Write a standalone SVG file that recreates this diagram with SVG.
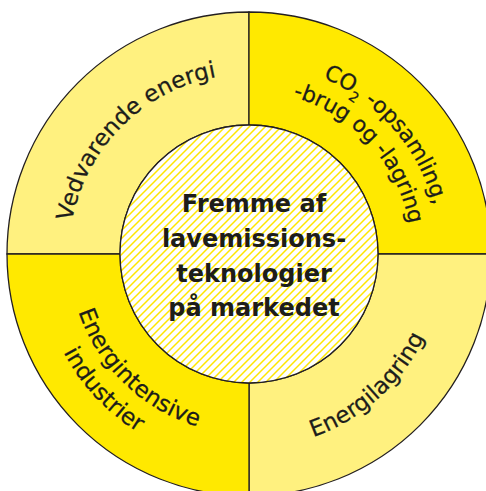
<svg xmlns="http://www.w3.org/2000/svg" width="486" height="491" viewBox="0 0 486 491">
<style>
.seg{stroke:#231f20;stroke-width:1.3}
.pale{fill:#FFF17F}
.bright{fill:#FFE900}
.lbl{font-family:"DejaVu Sans","Open Sans",sans-serif;font-size:23px;fill:#1d1d1b;stroke:#1d1d1b;stroke-width:0.25}
.sm{font-size:22px;letter-spacing:-0.2px}
.ctr{font-family:"DejaVu Sans","Open Sans",sans-serif;font-size:24px;font-weight:bold;fill:#1d1d1b;text-anchor:middle}
</style>
<defs>
<pattern id="hatch" patternUnits="userSpaceOnUse" width="8" height="8">
<rect width="8" height="8" fill="#ffffff"/>
<path d="M-2,2 L2,-2 M0,8 L8,0 M6,10 L10,6" stroke="#FFE600" stroke-width="1.5"/>
</pattern>
<path id="pVed" d="M121.72,381.28 A180,180 0 0 1 376.28,126.72"/>
<path id="pCO1" d="M123.69,109.85 A191,191 0 0 1 374.31,398.15"/>
<path id="pCO2" d="M138.88,133.82 A163,163 0 0 1 359.12,374.18"/>
<path id="pLag" d="M104.09,384.48 A195,195 0 0 0 393.91,123.52"/>
<path id="pInt1" d="M118.81,128.26 A181,181 0 0 0 379.19,379.74"/>
<path id="pInt2" d="M105.78,100.41 A210,210 0 0 0 392.22,407.59"/>
</defs>
<g id="node-vedvarende">
<path class="seg pale" d="M7,254 A242,242 0 0 1 249,12 L249,125 A129,129 0 0 0 120,254 Z"/>
<text class="lbl"><textPath href="#pVed" startOffset="50%" text-anchor="middle">Vedvarende energi</textPath></text>
</g>
<g id="node-co2">
<path class="seg bright" d="M249,12 A242,242 0 0 1 491,254 L378,254 A129,129 0 0 0 249,125 Z"/>
<text class="lbl sm"><textPath href="#pCO1" startOffset="50%" text-anchor="middle">CO<tspan font-size="14" dy="7">2</tspan><tspan dy="-7"> -opsamling,</tspan></textPath></text>
<text class="lbl sm"><textPath href="#pCO2" startOffset="50%" text-anchor="middle">-brug og -lagring</textPath></text>
</g>
<g id="node-energilagring">
<path class="seg pale" d="M491,254 A242,242 0 0 1 249,496 L249,383 A129,129 0 0 0 378,254 Z"/>
<text class="lbl"><textPath href="#pLag" startOffset="50%" text-anchor="middle">Energilagring</textPath></text>
</g>
<g id="node-energiintensive">
<path class="seg bright" d="M249,496 A242,242 0 0 1 7,254 L120,254 A129,129 0 0 0 249,383 Z"/>
<text class="lbl"><textPath href="#pInt1" startOffset="50%" text-anchor="middle">Energintensive</textPath></text>
<text class="lbl"><textPath href="#pInt2" startOffset="50%" text-anchor="middle">industrier</textPath></text>
</g>
<g id="node-center">
<circle class="seg" cx="249" cy="254" r="129" fill="url(#hatch)"/>
<text class="ctr" x="254" y="212">Fremme af</text>
<text class="ctr" x="254" y="247">lavemissions-</text>
<text class="ctr" x="254" y="282">teknologier</text>
<text class="ctr" x="254" y="316">på markedet</text>
</g>
<g id="connectors"/>
</svg>
